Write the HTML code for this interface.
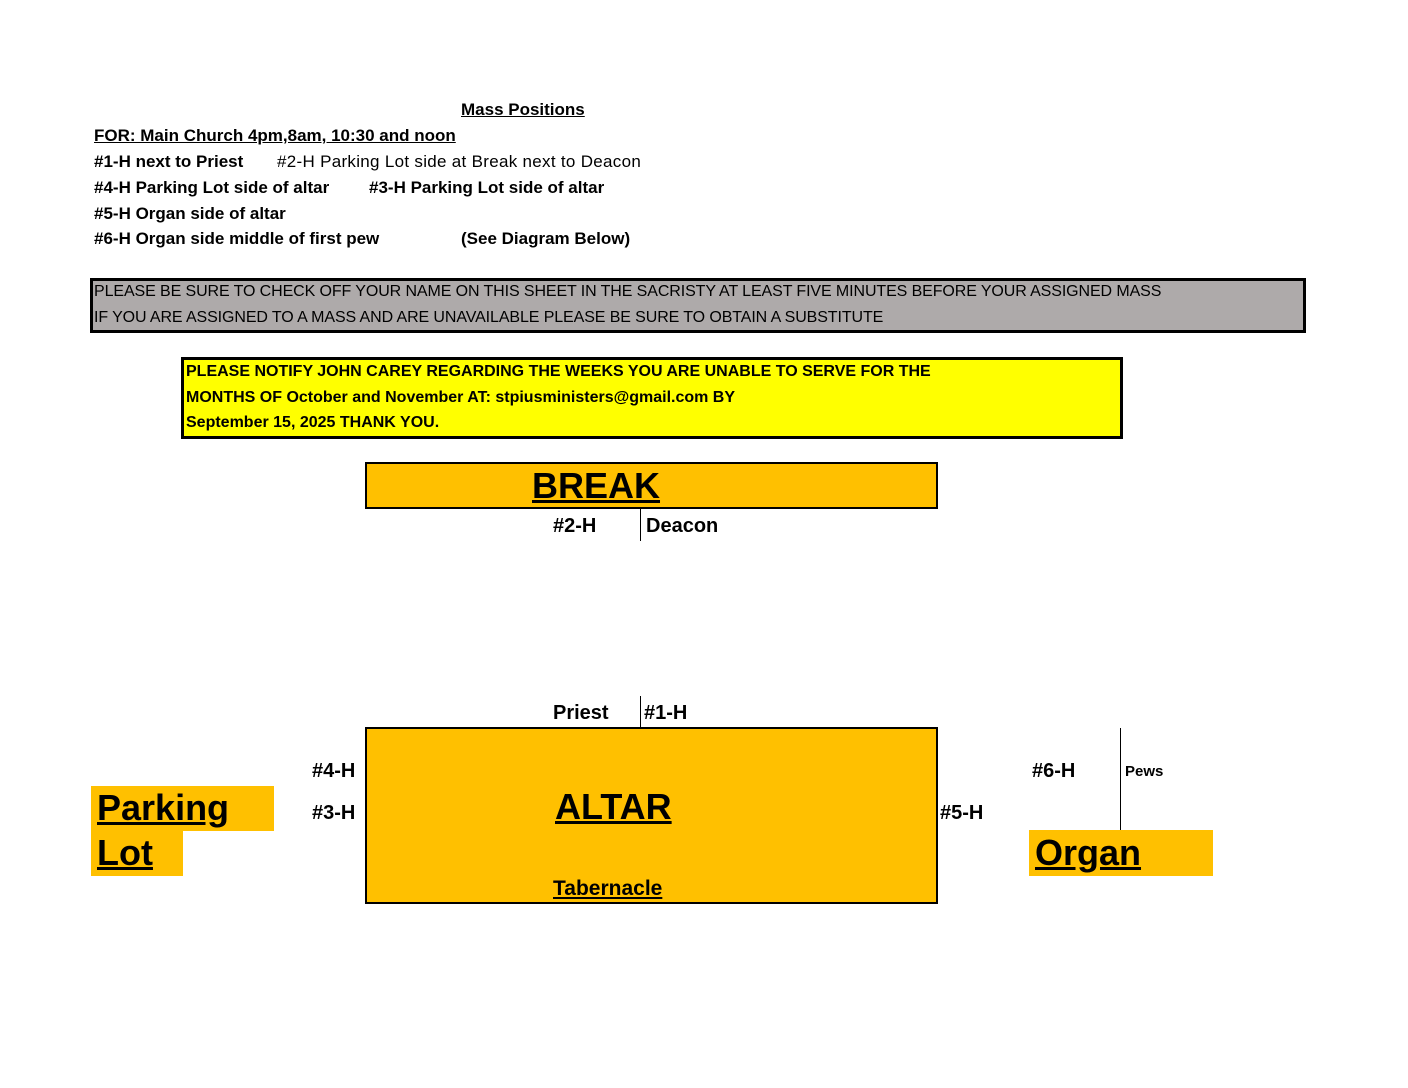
<!DOCTYPE html>
<html><head><style>
body{margin:0;width:1408px;height:1088px;background:#fff;position:relative;overflow:hidden;font-family:"Liberation Sans",sans-serif;}
.t{position:absolute;white-space:nowrap;font-size:17px;line-height:20px;color:#000;}
.b{font-weight:bold;}
.u{text-decoration:underline;}
.box{position:absolute;box-sizing:border-box;}
.v{position:absolute;width:1px;background:#000;}
</style></head><body>
<div class="t b u" style="left:461px;top:100px;">Mass Positions</div>
<div class="t b u" style="left:94px;top:126px;">FOR: Main Church 4pm,8am, 10:30 and noon</div>
<div class="t b" style="left:94px;top:152px;">#1-H next to Priest</div>
<div class="t" style="left:277px;top:152px;letter-spacing:0.3px">#2-H Parking Lot side at Break next to Deacon</div>
<div class="t b" style="left:94px;top:178px;">#4-H Parking Lot side of altar</div>
<div class="t b" style="left:369px;top:178px;">#3-H Parking Lot side of altar</div>
<div class="t b" style="left:94px;top:204px;">#5-H Organ side of altar</div>
<div class="t b" style="left:94px;top:229px;">#6-H Organ side middle of first pew</div>
<div class="t b" style="left:461px;top:229px;">(See Diagram Below)</div>

<div class="box" style="left:90px;top:278px;width:1216px;height:55px;background:#aeaaaa;border:3px solid #000;"></div>
<div class="t" style="left:94px;top:282px;font-size:16px;letter-spacing:-0.1px">PLEASE BE SURE TO CHECK OFF YOUR NAME ON THIS SHEET IN THE SACRISTY AT LEAST FIVE MINUTES BEFORE YOUR ASSIGNED MASS</div>
<div class="t" style="left:94px;top:308px;font-size:16px;letter-spacing:-0.1px">IF YOU ARE ASSIGNED TO A MASS AND ARE UNAVAILABLE PLEASE BE SURE TO OBTAIN A SUBSTITUTE</div>

<div class="box" style="left:181px;top:357px;width:942px;height:82px;background:#ffff00;border:3px solid #000;"></div>
<div class="t b" style="left:186px;top:362px;font-size:16px;">PLEASE NOTIFY JOHN CAREY REGARDING THE WEEKS YOU ARE UNABLE TO SERVE FOR THE</div>
<div class="t b" style="left:186px;top:388px;font-size:16px;">MONTHS OF October and November AT: stpiusministers@gmail.com BY</div>
<div class="t b" style="left:186px;top:413px;font-size:16px;">September 15, 2025 THANK YOU.</div>

<div class="box" style="left:365px;top:462px;width:573px;height:47px;background:#ffc000;border:2px solid #000;"></div>
<div class="t b u" style="left:532px;top:466px;font-size:36px;line-height:40px">BREAK</div>
<div class="t b" style="left:553px;top:515px;font-size:20px;line-height:22px">#2-H</div>
<div class="v" style="left:640px;top:509px;height:32px"></div>
<div class="t b" style="left:646px;top:515px;font-size:20px;line-height:22px">Deacon</div>

<div class="t b" style="left:553px;top:702px;font-size:20px;line-height:22px">Priest</div>
<div class="v" style="left:640px;top:696px;height:31px"></div>
<div class="t b" style="left:644px;top:702px;font-size:20px;line-height:22px">#1-H</div>

<div class="box" style="left:365px;top:727px;width:573px;height:177px;background:#ffc000;border:2px solid #000;"></div>
<div class="t b u" style="left:555px;top:787px;font-size:36px;line-height:40px">ALTAR</div>
<div class="t b u" style="left:553px;top:878px;font-size:21px;line-height:22px">Tabernacle</div>
<div class="t b" style="left:312px;top:760px;font-size:20px;line-height:22px">#4-H</div>
<div class="t b" style="left:312px;top:802px;font-size:20px;line-height:22px">#3-H</div>
<div class="t b" style="left:940px;top:802px;font-size:20px;line-height:22px">#5-H</div>

<div class="box" style="left:91px;top:786px;width:183px;height:45px;background:#ffc000;"></div>
<div class="box" style="left:91px;top:831px;width:92px;height:45px;background:#ffc000;"></div>
<div class="t b u" style="left:97px;top:788px;font-size:36px;line-height:40px">Parking</div>
<div class="t b u" style="left:97px;top:833px;font-size:36px;line-height:40px">Lot</div>

<div class="t b" style="left:1032px;top:760px;font-size:20px;line-height:22px">#6-H</div>
<div class="v" style="left:1120px;top:728px;height:102px"></div>
<div class="t b" style="left:1125px;top:763px;font-size:15px;line-height:18px">Pews</div>
<div class="box" style="left:1029px;top:830px;width:184px;height:46px;background:#ffc000;"></div>
<div class="t b u" style="left:1035px;top:833px;font-size:36px;line-height:40px">Organ</div>
</body></html>
